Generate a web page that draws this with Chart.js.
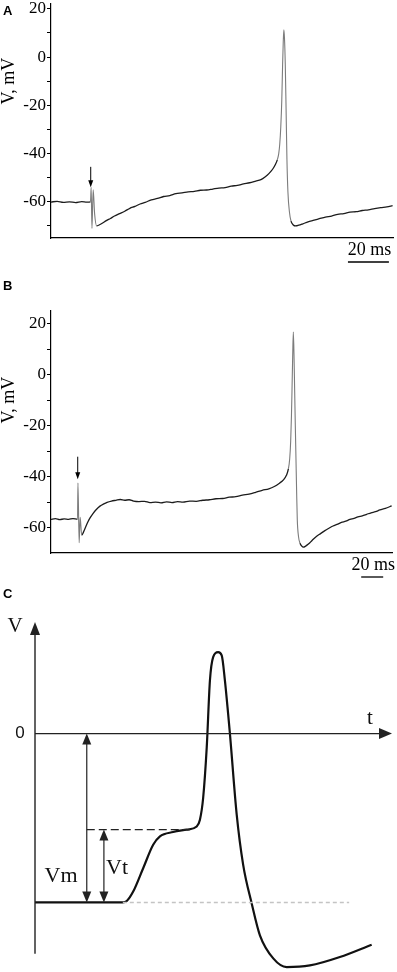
<!DOCTYPE html>
<html>
<head>
<meta charset="utf-8">
<script src="https://cdn.jsdelivr.net/npm/chart.js@4.4.0/dist/chart.umd.min.js"></script>
<style>
  html, body { margin: 0; padding: 0; background: #fff; }
  body { width: 397px; height: 972px; position: relative; overflow: hidden; }
  .panel { position: absolute; left: 0; width: 397px; }
  #wrapA { top: 0; height: 275px; }
  #wrapB { top: 280px; height: 300px; }
  #wrapC { top: 580px; height: 392px; }
</style>
</head>
<body>
<div class="panel" id="wrapA"><canvas id="chartA"></canvas></div>
<div class="panel" id="wrapB"><canvas id="chartB"></canvas></div>
<div class="panel" id="wrapC"><canvas id="chartC"></canvas></div>
<script>
// ---- data ----
// recordings: [time ms, membrane potential mV]
const traceA = [
  [0,-60.1],[3,-59.8],[6,-60.2],[9,-60.0],[12,-60.3],[15,-59.9],[17.5,-60.1],[19.3,-60.0],
  [19.6,-54],[20.0,-71],[20.6,-55],[21.3,-65],[22.3,-70],
  [23.5,-69.6],[25,-68.9],[27,-67.8],[29,-66.9],[31,-65.9],[33.5,-64.9],[36,-63.9],[38.5,-62.7],
  [41,-61.9],[43.5,-60.9],[46,-60.2],[49,-59.2],[52,-58.6],[55,-57.8],[58,-57.4],[61,-56.6],
  [64,-56.3],[67,-55.9],[70,-55.7],[73,-55.2],[76,-55.1],[79,-54.7],[82,-54.3],[85,-54.1],
  [88,-53.5],[91,-53.2],[94,-52.6],[97,-52.1],[100,-51.4],[102.5,-50.8],[104.5,-49.7],
  [106.5,-48.2],[108.2,-46.5],[109.5,-44.6],[110.5,-42.6],[111.2,-40],[111.7,-36],[112.2,-29],
  [112.7,-17.7],[113.1,-3],[113.4,6],[113.7,11.3],[114.0,8],[114.4,-3],[114.8,-22],[115.2,-42],
  [115.7,-56],[116.4,-64],[117.2,-68],[118.3,-69.6],[119.5,-70],[121,-69.7],[123,-69.1],
  [125.5,-68.3],[128,-67.7],[131,-67],[134,-66.3],[137,-65.9],[140,-65.2],[143,-64.9],
  [146,-64.3],[149,-64.1],[152,-63.6],[155,-63.3],[158,-62.8],[161,-62.4],[164,-62.1],[166.8,-61.6]
];
const traceB = [
  [0,-56.8],[4,-56.5],[8,-56.9],[12,-56.6],[16,-56.8],[20,-56.5],[24.1,-56.7],
  [24.5,-42.5],[25.6,-66],[26.5,-56],[27.9,-63],
  [29.5,-61.8],[31.5,-59.8],[33.5,-57.8],[35.5,-56.2],[38,-54.6],[41,-53],[44.5,-51.6],
  [48,-50.7],[51,-50.1],[55,-49.6],[59,-49.3],[63,-49],[67,-49.3],[71,-49.1],[75,-49.6],
  [80,-49.8],[85,-49.7],[90,-50.2],[95,-50],[100,-50.3],[105,-49.9],[110,-50.2],[115,-49.8],
  [120,-50],[126,-49.6],[132,-49.7],[138,-49.3],[144,-49.1],[150,-48.7],[156,-48.6],
  [162,-48.1],[168,-47.9],[174,-47.3],[180,-46.9],[186,-46.2],[192,-45.4],[198,-44.8],
  [203,-43.9],[208,-42.5],[211.5,-41.2],[214,-39.5],[215.8,-37],[217,-33],[217.9,-26],
  [218.6,-16],[219.1,-6],[219.7,7],[220.3,16.7],[220.9,8],[221.5,-6],[222.1,-20],[222.7,-33],
  [223.3,-46],[223.9,-57],[225,-63.5],[226.4,-66.2],[228,-67.3],[229.4,-67.7],[231.5,-67.3],
  [234,-66.5],[237.5,-65],[241.5,-63.4],[245,-62.4],[249,-61.2],[253,-60.2],[256.4,-59.4],
  [260,-58.8],[264,-58],[268,-57.5],[271.8,-56.8],[275.5,-56.4],[279,-55.8],[283,-55.4],
  [287,-54.8],[291,-54.2],[295,-53.8],[299,-53.1],[304,-52.5],[309.7,-51.5]
];
// schematic action potential (arbitrary time units, mV-like)
const traceC = [
  [0,-70],[24.6,-70],[25.7,-69.4],[27.5,-65.5],[30.3,-55.8],[33.1,-46.1],[35.0,-42.6],
  [38.7,-40.8],[42.5,-39.8],[45.3,-38.5],[46.2,-35.7],[47.1,-26.7],[48.1,-5.8],[49.0,22],
  [49.9,31.7],[51.3,33.75],[52.3,32.4],[53.2,22],[54.1,8.2],[54.6,0],[56.5,-33.6],
  [58.3,-54.3],[60.7,-70.4],[63.0,-83.6],[66.8,-93.3],[70.5,-96.8],[77.0,-96.1],
  [85.4,-92.6],[94.3,-87.5]
];

const yTicksA = [-70, -60, -50, -40, -30, -20, -10, 0, 10, 20];
const yTicksB = [-60, -50, -40, -30, -20, -10, 0, 10, 20];
const yLabelled = [-60, -40, -20, 0, 20];
const yRangeA = [-75, 22];
const yRangeB = [-70, 25];
const xRangeA = [0, 167];
const xRangeB = [0, 310];
const scaleBarA = [145, 165];   // ms
const scaleBarB = [282, 302];
const stimA = [19.4, -45.5, -54]; // time, arrow top, arrow tip
const stimB = [24.3, -32.2, -41];

const restC = -70;
const thresholdC = -39.8;
const restDotted = [24.6, 88];
const thresholdDash = [14.5, 43.4];
const vmArrowT = 14.5;
const vtArrowT = 19.3;
const axisC = { yFrom: -91.25, yTo: 46.25, xTo: 100 };

Chart.defaults.animation = false;
Chart.defaults.elements.point.radius = 0;
Chart.defaults.plugins.legend.display = false;
Chart.defaults.plugins.tooltip.enabled = false;

const SERIF = '"Liberation Serif", "Times New Roman", serif';
const SANS = '"Liberation Sans", Arial, sans-serif';

function arrowHead(ctx, x, y, ang, len, half) {
  const c = Math.cos(ang), s = Math.sin(ang);
  ctx.beginPath();
  ctx.moveTo(x, y);
  ctx.lineTo(x - len * c + half * s, y - len * s - half * c);
  ctx.lineTo(x - len * c - half * s, y - len * s + half * c);
  ctx.closePath();
  ctx.fill();
}

const traceDecor = {
  id: 'traceDecor',
  afterDraw(chart, args, o) {
    const { ctx, chartArea: a, scales: { x, y } } = chart;
    ctx.save();
    ctx.fillStyle = '#000';
    ctx.strokeStyle = '#000';

    // panel letter
    ctx.font = 'bold 13px ' + SANS;
    ctx.textAlign = 'left';
    ctx.textBaseline = 'alphabetic';
    ctx.fillText(o.letter, 3, o.letterBase);

    // y title
    ctx.save();
    ctx.font = '18px ' + SERIF;
    ctx.translate(9, y.getPixelForValue(o.titleAt));
    ctx.rotate(-Math.PI / 2);
    ctx.textAlign = 'center';
    ctx.textBaseline = 'middle';
    ctx.fillText('V, mV', 0, 0);
    ctx.restore();

    // scale bar
    const x0 = x.getPixelForValue(o.bar[0]);
    const x1 = x.getPixelForValue(o.bar[1]);
    ctx.lineWidth = 1.3;
    ctx.beginPath();
    ctx.moveTo(x0, a.bottom + 24);
    ctx.lineTo(x1, a.bottom + 24);
    ctx.stroke();
    ctx.font = '18px ' + SERIF;
    ctx.textAlign = 'center';
    ctx.textBaseline = 'middle';
    ctx.fillText((o.bar[1] - o.bar[0]) + ' ms', (x0 + x1) / 2 + 1, a.bottom + 12);

    // stimulus arrow
    const sx = x.getPixelForValue(o.stim[0]);
    const sy0 = y.getPixelForValue(o.stim[1]);
    const sy1 = y.getPixelForValue(o.stim[2]);
    ctx.lineWidth = 1;
    ctx.beginPath();
    ctx.moveTo(sx, sy0);
    ctx.lineTo(sx, sy1 - 4);
    ctx.stroke();
    arrowHead(ctx, sx, sy1, Math.PI / 2, 7, 2.5);
    ctx.restore();
  }
};

// fast (near vertical) parts of the recording look thinner and grey
const steep = c => Math.abs(c.p1.y - c.p0.y) > 2.5 * Math.abs(c.p1.x - c.p0.x) + 2;

function tracePanel(id, trace, xr, yr, ticks, deco, pad) {
  return new Chart(document.getElementById(id), {
    type: 'line',
    data: {
      datasets: [{
        data: trace.map(p => ({ x: p[0], y: p[1] })),
        borderColor: '#1c1c1c',
        borderWidth: 1.3,
        borderJoinStyle: 'round',
        cubicInterpolationMode: 'monotone',
        segment: {
          borderColor: c => steep(c) ? '#7c7c7c' : '#1c1c1c',
          borderWidth: c => steep(c) ? 1.1 : 1.3
        }
      }]
    },
    options: {
      responsive: true,
      maintainAspectRatio: false,
      layout: { padding: pad },
      scales: {
        x: {
          type: 'linear', min: xr[0], max: xr[1],
          ticks: { display: false },
          grid: { display: false },
          border: { display: true, color: '#000', width: 1.2 },
          afterFit: s => { s.height = 0; s.paddingLeft = 0; s.paddingRight = 0; }
        },
        y: {
          min: yr[0], max: yr[1],
          afterBuildTicks: s => { s.ticks = ticks.map(v => ({ value: v })); },
          afterFit: s => { s.width = 51; s.paddingTop = 0; s.paddingBottom = 0; },
          ticks: {
            autoSkip: false,
            padding: 1,
            color: '#000',
            font: { family: SERIF, size: 17 },
            callback: v => yLabelled.includes(v) ? String(v) : ''
          },
          grid: { drawOnChartArea: false, drawTicks: true, tickLength: 4, color: '#000', tickColor: '#000' },
          border: { display: true, color: '#000', width: 1.2 }
        }
      },
      plugins: { traceDecor: deco }
    },
    plugins: [traceDecor]
  });
}

tracePanel('chartA', traceA, xRangeA, yRangeA, yTicksA,
  { letter: 'A', letterBase: 15, titleAt: -10, bar: scaleBarA, stim: stimA },
  { left: 0, right: 4, top: 4, bottom: 37 });

tracePanel('chartB', traceB, xRangeB, yRangeB, yTicksB,
  { letter: 'B', letterBase: 10, titleAt: -10, bar: scaleBarB, stim: stimB },
  { left: 0, right: 5, top: 31, bottom: 27 });

// ---- panel C: schematic ----
const schematicDecor = {
  id: 'schematicDecor',
  afterDraw(chart) {
    const { ctx, scales: { x, y } } = chart;
    const px = v => x.getPixelForValue(v);
    const py = v => y.getPixelForValue(v);
    ctx.save();
    ctx.fillStyle = '#222';
    ctx.strokeStyle = '#222';

    // axes
    ctx.lineWidth = 1.4;
    ctx.beginPath();
    ctx.moveTo(px(0), py(axisC.yFrom));
    ctx.lineTo(px(0), py(axisC.yTo) + 10);
    ctx.moveTo(px(0), py(0));
    ctx.lineTo(px(axisC.xTo) - 10, py(0));
    ctx.stroke();
    arrowHead(ctx, px(0), py(axisC.yTo), -Math.PI / 2, 13, 5);
    arrowHead(ctx, px(axisC.xTo), py(0), 0, 13, 5.5);

    // Vm and Vt double arrows
    ctx.lineWidth = 1.2;
    [[vmArrowT, 0, restC], [vtArrowT, thresholdC, restC]].forEach(([t, top, bot]) => {
      const ax = px(t), y0 = py(top), y1 = py(bot);
      ctx.beginPath();
      ctx.moveTo(ax, y0 + 8);
      ctx.lineTo(ax, y1 - 8);
      ctx.stroke();
      arrowHead(ctx, ax, y0, -Math.PI / 2, 11, 4.5);
      arrowHead(ctx, ax, y1, Math.PI / 2, 11, 4.5);
    });

    // labels
    ctx.fillStyle = '#111';
    ctx.textAlign = 'center';
    ctx.textBaseline = 'middle';
    ctx.font = '21px ' + SERIF;
    ctx.fillText('V', px(0) - 20, py(44.5));
    ctx.fillText('t', px(93.8), py(6.1));
    ctx.font = '22px ' + SERIF;
    ctx.fillText('Vm', px(7.3), py(-59.3));
    ctx.fillText('Vt', px(23), py(-56));
    ctx.font = '17px ' + SANS;
    ctx.fillText('0', px(0) - 15, py(0));

    ctx.fillStyle = '#000';
    ctx.font = 'bold 13px ' + SANS;
    ctx.textAlign = 'left';
    ctx.textBaseline = 'alphabetic';
    ctx.fillText('C', 3, 18);
    ctx.restore();
  }
};

new Chart(document.getElementById('chartC'), {
  type: 'line',
  data: {
    datasets: [
      {
        data: restDotted.map(t => ({ x: t, y: restC })),
        borderColor: '#c4c4c4', borderWidth: 1.5, borderDash: [4, 3]
      },
      {
        data: thresholdDash.map(t => ({ x: t, y: thresholdC })),
        borderColor: '#222', borderWidth: 1.2, borderDash: [8, 4]
      },
      {
        data: traceC.map(p => ({ x: p[0], y: p[1] })),
        borderColor: '#111', borderWidth: 2.2,
        cubicInterpolationMode: 'monotone'
      }
    ]
  },
  options: {
    responsive: true,
    maintainAspectRatio: false,
    layout: { padding: { left: 35, right: 5, top: 33, bottom: 2 } },
    scales: {
      x: { type: 'linear', display: false, min: 0, max: 100 },
      y: { display: false, min: -98, max: 50 }
    }
  },
  plugins: [schematicDecor]
});
</script>
</body>
</html>
